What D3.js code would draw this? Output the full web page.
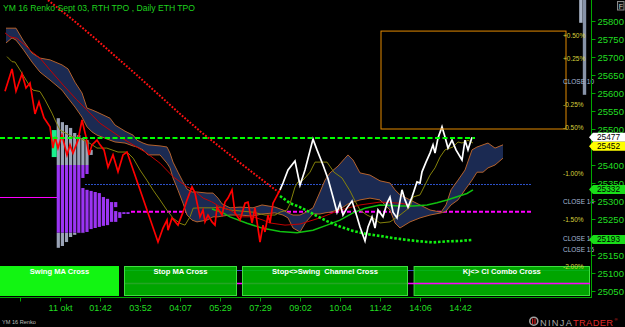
<!DOCTYPE html>
<html>
<head>
<meta charset="utf-8">
<script src="https://cdn.jsdelivr.net/npm/d3@7"></script>
<style>
  body { margin: 0; background: #000; }
  svg { display: block; font-family: "Liberation Sans", Arial, sans-serif; }
</style>
</head>
<body>
<div id="chart"></div>
<script>
// ---- data ----
var xTickBars = [0, 10, 20, 30, 40, 50, 60, 70, 80, 90, 100, 110];
var xTickLabels = ["", "11 okt", "01:42", "03:52", "04:07", "05:29", "07:29", "09:02", "10:04", "11:42", "14:06", "14:42"];
var yTicks = [25050, 25100, 25150, 25200, 25250, 25300, 25350, 25400, 25450, 25500, 25550, 25600, 25650, 25700, 25750, 25800];
// tick labels hidden behind the value markers
var yHidden = [25450, 25200];

// renko closes [bar, price]
var priceRed = [[-3.75,25605],[-2,25667],[-1,25605],[0.5,25653],[1.5,25614],[2.5,25628],[3.75,25542],[4.75,25575],[6,25531],[7.5,25506],[8.25,25447],[8.75,25478],[9.5,25447],[10.5,25483],[11.75,25428],[12.5,25456],[13.25,25433],[14.5,25469],[15.5,25525],[16.5,25478],[17.25,25428],[18,25456],[19.25,25469],[20,25456],[21,25442],[22,25394],[23.25,25428],[24.5,25381],[25.75,25428],[26.75,25436],[34.5,25186],[35.75,25225],[36.75,25247],[37,25219],[38,25253],[39.5,25233],[40.75,25269],[41.75,25303],[43,25339],[43.75,25322],[45,25256],[45.75,25275],[46.25,25242],[47,25261],[48,25242],[48.75,25233],[49.25,25283],[50.5,25261],[51.25,25297],[52,25308],[53,25331],[53.75,25267],[55,25247],[56.25,25294],[57,25297],[58,25239],[58.75,25281],[60,25186],[60.75,25233],[61.25,25214],[62,25261],[62.5,25239],[63.25,25294],[65,25331]];
var priceWhite = [[65,25331],[65.75,25350],[67,25386],[68.75,25411],[70,25344],[71.25,25386],[73.25,25472],[74.25,25442],[75.75,25400],[77,25362],[78.25,25311],[79.25,25269],[80,25294],[80.75,25261],[81.75,25281],[83,25300],[84.25,25256],[85,25228],[86.25,25189],[87,25228],[88,25256],[88.75,25225],[89.5,25275],[90.75,25256],[91.75,25294],[92.5,25311],[93.25,25269],[94.25,25253],[95.5,25331],[96.25,25303],[97,25283],[98,25311],[99.25,25353],[100,25350],[100.5,25381],[101.5,25408],[102.5,25433],[103.25,25456],[103.75,25433],[104.5,25475],[105.5,25506],[106.25,25478],[107,25447],[108,25469],[109,25442],[110.5,25414],[111.25,25469],[112,25442],[113,25477]];

// cloud edges
var cloudBars = [-3.5,-2,-1,0.75,3,5,7.5,10.5,12,13.75,15.5,16.75,18,19.25,22.5,23.75,26.25,28.25,29.25,30.75,32,35,36.75,37.5,38.25,39.5,40.75,41.75,43,44.25,46.75,48.25,49.5,50.5,52.5,55,58.25,60.5,63.75,65.75,67,68.25,70,71.5,73.25,75,76.25,77.5,79.5,81.25,82,83.25,85,87.5,90,92.5,93.75,95,97.5,100,102.5,105.25,106.5,107.75,109.5,111.25,113,114.25,115.75,117,118.75,120.75];
var cloudUpper = [25780,25780,25780,25747,25711,25697,25692,25678,25667,25630,25600,25558,25553,25547,25530,25511,25494,25483,25469,25461,25456,25453,25450,25433,25408,25380,25353,25333,25325,25325,25322,25322,25308,25292,25281,25283,25281,25289,25283,25275,25267,25261,25261,25269,25281,25325,25358,25378,25397,25419,25428,25414,25378,25372,25356,25350,25331,25317,25303,25289,25275,25269,25289,25331,25358,25386,25442,25450,25456,25461,25447,25456];
var cloudLower = [25739,25753,25747,25722,25686,25658,25636,25608,25586,25561,25533,25506,25492,25483,25469,25464,25461,25453,25450,25442,25428,25428,25405,25392,25364,25330,25294,25261,25247,25242,25247,25256,25256,25258,25261,25261,25258,25264,25267,25261,25253,25225,25214,25242,25264,25264,25267,25269,25275,25286,25292,25297,25303,25308,25303,25275,25239,25225,25242,25253,25261,25267,25272,25289,25303,25331,25358,25380,25380,25392,25400,25419];

var oliveLine = [[-3.25,25701],[-2,25687],[-1.25,25686],[0,25664],[2.5,25618],[3.25,25608],[5,25604],[6.25,25581],[8,25544],[8.75,25525],[10,25497],[13,25479],[15,25474],[17.5,25460],[19.25,25447],[21.7,25447],[24.5,25436],[26.75,25436],[28.3,25419],[30,25386],[31.7,25358],[33.3,25330],[35,25303],[36.7,25275],[38.3,25252],[40,25238],[41.25,25233],[42.5,25256],[43.3,25280],[45,25281],[48.25,25281],[50,25283],[52.5,25275],[58.25,25269],[61.25,25261],[63.75,25261],[65,25269],[66.75,25275],[67.5,25292],[68.75,25339],[69.5,25353],[70.75,25358],[72.5,25380],[73.75,25408],[76.75,25408],[78.5,25380],[80.5,25364],[82.5,25328],[83.75,25300],[85,25275],[86.75,25261],[88.25,25253],[90,25239],[92.5,25242],[95,25261],[97.5,25283],[98.25,25311],[100,25317],[102.5,25372],[103.75,25392],[105,25422],[106.25,25442],[108.25,25450],[109.5,25464],[110.5,25461],[112,25469],[113.25,25461]];
var redMA = [[-3.75,25767],[-2.5,25756],[-0.8,25752],[1.25,25733],[2.9,25715],[5,25697],[7.5,25664],[10.8,25622],[14.2,25581],[16.7,25553],[20,25516],[25,25478],[31.7,25433],[35,25405],[38.3,25367],[41.7,25340],[43.3,25331],[45.8,25308],[47.9,25298],[50,25284],[52.5,25275],[55,25256],[58.3,25256],[60.75,25247],[62.5,25239],[66.25,25233],[70,25236],[75,25253],[80,25275],[85,25289],[90,25297],[95,25294],[97.5,25289]];
var greenCurve = [[48,25278],[50.75,25267],[52.5,25256],[56.75,25238],[60.75,25224],[65,25215],[69.25,25212],[73.25,25219],[76.75,25233],[80,25247],[83.25,25267],[86.25,25280],[90,25289],[95,25286],[98.25,25286],[101.75,25289],[104.25,25295],[106.75,25303],[109.25,25312],[111.75,25321],[113.25,25331]];
var redStops = [[7,25858],[13.25,25803],[19.25,25747],[30,25642],[40,25542],[45,25494],[55,25406],[62.5,25342],[65,25322]];
var greenStops = [[65,25314],[67.5,25294],[70,25283],[73.25,25264],[76.75,25244],[80,25229],[83.25,25217],[86.75,25208],[90,25203],[93.25,25197],[96.75,25192],[100,25188],[103.25,25185],[106.75,25188],[110,25189],[113,25192]];

// horizontal levels: price, from bar, to bar
var levelPrices = [25310, 25346, 25270, 25108, 25071, 25475];
var levelFrom = [-5, 16.25, 27.75, 26, 26, -5];
var levelTo = [9.25, 128, 128, 142.5, 142.5, 113.75];

// TPO profile [column, high, low]
var tpoCols = [[0,25530,25170],[1,25519,25175],[2,25511,25186],[3,25503,25200],[4,25489,25206],[5,25483,25211],[6,25475,25364],[6,25336,25211],[7,25469,25375],[7,25331,25214],[8,25442,25428],[8,25328,25222],[9,25325,25225],[10,25322,25228],[11,25311,25231],[12,25306,25233],[13,25297,25242],[14,25297,25283],[14,25272,25242],[15,25269,25253],[16,25269,25264],[17,25269,25264]];
var valueArea = [25400, 25212];
var openBox = [25497, 25422];
var rightProfile = [[139.8, 25860, 25795], [140.7, 25860, 25595]];

var rangeBars = [90.25, 136.5];
var rangePrices = [25772, 25500];
var pctPrices = [25760, 25695, 25631, 25567, 25503, 25375, 25298, 25247, 25194, 25164, 25118];
var pctLabels = ["+0.50%", "+0.25%", "CLOSE 10", "-0.25%", "-0.50%", "-1.00%", "CLOSE 14", "-1.50%", "CLOSE 12", "CLOSE 15", "-2.00%"];

var markerPrices = [25477, 25452, 25332, 25193];
var markerColors = ["#ffffff", "#ffff00", "#19dd19", "#19dd19"];

var panelNames = ["Swing MA Cross", "Stop MA Cross", "Stop<>Swing  Channel Cross", "Kj<> Cl Combo Cross"];
var panelFrom = [-5, 26, 55.5, 98.4];
var panelTo = [24.75, 54.25, 97, 142.5];

// ---- chart ----
var width = 625, height = 327;
var svg = d3.select("#chart").append("svg")
  .attr("width", width).attr("height", height)
  .style("background", "#000");

var x = d3.scaleLinear().domain([-5, 142.5]).range([0, 590]);
var y = d3.scaleLinear().domain([25050, 25800]).range([291, 21]);
var tpoX = d3.scaleLinear().domain([0, 1]).range([56.7, 60.8]);

svg.append("clipPath").attr("id", "plotclip")
  .append("rect").attr("width", 591).attr("height", 297);
var plot = svg.append("g").attr("clip-path", "url(#plotclip)");

var line = d3.line().x(d => x(d[0])).y(d => y(d[1]));

// levels under the profile
var levelColor = ["#ff00ff", "#2c50c8", "#ff00ff", "#3050c0", "#ff00ff", "#00ff00"];
var levelWidth = [1, 1, 2, 1, 1.5, 2];
var levelDash = [null, "2,1", "4,2", null, null, "5,2.5"];
levelPrices.slice(0, 5).forEach(function(p, i) {
  var yy = levelWidth[i] === 1 ? Math.round(y(p)) + 0.5 : y(p);
  plot.append("line")
    .attr("x1", x(levelFrom[i])).attr("x2", x(levelTo[i]))
    .attr("y1", yy).attr("y2", yy)
    .attr("stroke", levelColor[i]).attr("stroke-width", levelWidth[i])
    .attr("stroke-dasharray", levelDash[i]);
});

// TPO columns, split by value area
tpoCols.forEach(function(s) {
  var hi = s[1], lo = s[2], parts = [];
  if (hi > valueArea[0]) parts.push([hi, Math.max(lo, valueArea[0]), "#9aa3b6"]);
  if (lo < valueArea[1]) parts.push([Math.min(hi, valueArea[1]), lo, "#9aa3b6"]);
  var a = Math.min(hi, valueArea[0]), b = Math.max(lo, valueArea[1]);
  if (a > b) parts.push([a, b, "#9b34f2"]);
  parts.forEach(function(pt) {
    plot.append("rect")
      .attr("x", tpoX(s[0])).attr("width", 3.2)
      .attr("y", y(pt[0])).attr("height", y(pt[1]) - y(pt[0]))
      .attr("fill", pt[2]);
  });
});
plot.append("rect")
  .attr("x", tpoX(-1.22)).attr("width", 5)
  .attr("y", y(openBox[0])).attr("height", y(openBox[1]) - y(openBox[0]))
  .attr("fill", "#19f08c");

rightProfile.forEach(function(c, i) {
  plot.append("rect")
    .attr("x", x(c[0])).attr("width", x(c[0] + 0.85) - x(c[0]))
    .attr("y", y(c[1])).attr("height", y(c[2]) - y(c[1]))
    .attr("fill", i === 0 ? "#aab5c8" : "#8793a8");
});

// cloud
var cloud = cloudBars.map((b, i) => [b, cloudUpper[i], cloudLower[i]]);
plot.append("path").datum(cloud)
  .attr("d", d3.area().x(d => x(d[0])).y0(d => y(d[2])).y1(d => y(d[1])))
  .attr("fill", "#1b2a52");
plot.append("path").datum(cloud.map(d => [d[0], d[1]]))
  .attr("d", line).attr("fill", "none").attr("stroke", "#b4622c").attr("stroke-width", 1);
plot.append("path").datum(cloud.map(d => [d[0], d[2]]))
  .attr("d", line).attr("fill", "none").attr("stroke", "#b4622c").attr("stroke-width", 1);

// indicator lines
plot.append("path").datum(oliveLine).attr("d", line)
  .attr("fill", "none").attr("stroke", "#85820a").attr("stroke-width", 1);
plot.append("path").datum(redMA).attr("d", line)
  .attr("fill", "none").attr("stroke", "#c40000").attr("stroke-width", 1);
plot.append("path").datum(greenCurve).attr("d", line)
  .attr("fill", "none").attr("stroke", "#10c010").attr("stroke-width", 1.5);
plot.append("path").datum(redStops).attr("d", line)
  .attr("fill", "none").attr("stroke", "#ff1010").attr("stroke-width", 2)
  .attr("stroke-dasharray", "1.8,1.6");
plot.append("path").datum(greenStops).attr("d", line)
  .attr("fill", "none").attr("stroke", "#11ee11").attr("stroke-width", 2.6)
  .attr("stroke-dasharray", "2.6,1.8");

// price line
plot.append("path").datum(priceRed).attr("d", line)
  .attr("fill", "none").attr("stroke", "#ff0000").attr("stroke-width", 1.7);
plot.append("path").datum(priceWhite).attr("d", line)
  .attr("fill", "none").attr("stroke", "#ffffff").attr("stroke-width", 1.7);

// green dashed level on top
plot.append("line")
  .attr("x1", x(levelFrom[5])).attr("x2", x(levelTo[5]))
  .attr("y1", y(levelPrices[5])).attr("y2", y(levelPrices[5]))
  .attr("stroke", levelColor[5]).attr("stroke-width", levelWidth[5])
  .attr("stroke-dasharray", levelDash[5]);

// range box
plot.append("rect")
  .attr("x", x(rangeBars[0])).attr("y", y(rangePrices[0]))
  .attr("width", x(rangeBars[1]) - x(rangeBars[0]))
  .attr("height", y(rangePrices[1]) - y(rangePrices[0]))
  .attr("fill", "none").attr("stroke", "#e38a00").attr("stroke-width", 1);

// signal panels
panelNames.forEach(function(name, i) {
  svg.append("rect")
    .attr("x", x(panelFrom[i]) + 0.5).attr("y", 266.5)
    .attr("width", x(panelTo[i]) - x(panelFrom[i]) - 1).attr("height", 29)
    .attr("fill", i === 0 ? "#12f512" : "#00c000")
    .attr("fill-opacity", i === 0 ? 1 : 0.86)
    .attr("stroke", i === 0 ? "#12f512" : "#3ee03e").attr("stroke-width", 1);
  svg.append("text")
    .attr("x", (x(panelFrom[i]) + x(panelTo[i])) / 2).attr("y", 273.5)
    .attr("text-anchor", "middle")
    .style("white-space", "pre")
    .attr("font-size", "7.6px").attr("font-weight", "bold")
    .attr("fill", "#ffffff").text(name);
});
svg.append("line")
  .attr("x1", x(panelFrom[3])).attr("x2", x(panelTo[3]))
  .attr("y1", y(levelPrices[4])).attr("y2", y(levelPrices[4]))
  .attr("stroke", "#ff00ff").attr("stroke-width", 1.5);

// percent / close labels
pctPrices.forEach(function(p, i) {
  svg.append("text")
    .attr("x", 563).attr("y", y(p)).attr("dy", "0.35em")
    .attr("font-size", "6.5px")
    .attr("fill", pctLabels[i].indexOf("CLOSE") === 0 ? "#a9b8d8" : "#d8d23c")
    .text(pctLabels[i]);
});

// axes
var xAxis = svg.append("g")
  .attr("transform", "translate(0,297.5)")
  .call(d3.axisBottom(x).tickValues(xTickBars)
    .tickFormat((d, i) => xTickLabels[i]).tickSize(4).tickSizeOuter(0).tickPadding(3));
xAxis.select(".domain").attr("stroke", "#00a800").attr("d", "M0,0H591");
xAxis.selectAll(".tick line").attr("stroke", "#00a800");
xAxis.selectAll("text").attr("fill", "#22dd22").attr("font-size", "9px")
  .attr("font-family", "Liberation Sans, Arial, sans-serif");

var yAxis = svg.append("g")
  .attr("transform", "translate(591.5,0)")
  .call(d3.axisRight(y).tickValues(yTicks)
    .tickFormat(d => yHidden.indexOf(d) >= 0 ? "" : d3.format("d")(d))
    .tickSize(4).tickPadding(2));
yAxis.select(".domain").attr("stroke", "#00a800").attr("d", "M0,0V298");
yAxis.selectAll(".tick line").attr("stroke", "#00a800");
yAxis.selectAll("text").attr("fill", "#22dd22").attr("font-size", "9.5px")
  .attr("font-family", "Liberation Sans, Arial, sans-serif");

// last value markers
markerPrices.forEach(function(p, i) {
  var yy = y(p);
  svg.append("path")
    .attr("d", "M589," + yy + "L593," + (yy - 4.5) + "H625V" + (yy + 4.5) + "H593Z")
    .attr("fill", markerColors[i]);
  svg.append("text")
    .attr("x", 608.5).attr("y", yy).attr("dy", "0.35em")
    .attr("text-anchor", "middle").attr("font-size", "8.3px")
    .attr("fill", "#000").text(p);
});

// title and decorations
svg.append("text").attr("x", 3).attr("y", 10.5)
  .attr("font-size", "8.6px").attr("fill", "#1fd21f")
  .text("YM 16 Renko Sept 03, RTH TPO , Daily ETH TPO");

svg.append("rect").attr("x", 617.5).attr("y", 1.5).attr("width", 6.5).attr("height", 8.5)
  .attr("fill", "#111").attr("stroke", "#8a8a8a").attr("stroke-width", 1);
svg.append("text").attr("x", 620.8).attr("y", 8.8).attr("text-anchor", "middle")
  .attr("font-size", "7px").attr("fill", "#cccccc").text("F");

svg.append("text").attr("x", 2).attr("y", 324)
  .attr("font-size", "5.6px").attr("fill", "#bbbbbb").text("YM 16 Renko");

svg.append("circle").attr("cx", 533.8).attr("cy", 321.2).attr("r", 4)
  .attr("fill", "none").attr("stroke", "#a0a0a0").attr("stroke-width", 1.6);
svg.append("path").attr("d", "M532.6,318.5V324M535,318.5V324")
  .attr("stroke", "#d02020").attr("stroke-width", 1.2);
svg.append("text").attr("x", 540).attr("y", 325.5)
  .attr("font-size", "9.3px").attr("fill", "#a8a8a8")
  .attr("textLength", 32).attr("lengthAdjust", "spacing").text("NINJA");
svg.append("text").attr("x", 573).attr("y", 325.5)
  .attr("font-size", "9.3px").attr("fill", "#e02a2a")
  .attr("textLength", 40).attr("lengthAdjust", "spacing").text("TRADER");
svg.append("text").attr("x", 614.5).attr("y", 320.5)
  .attr("font-size", "4px").attr("fill", "#e02a2a").text("®");
</script>
</body>
</html>
